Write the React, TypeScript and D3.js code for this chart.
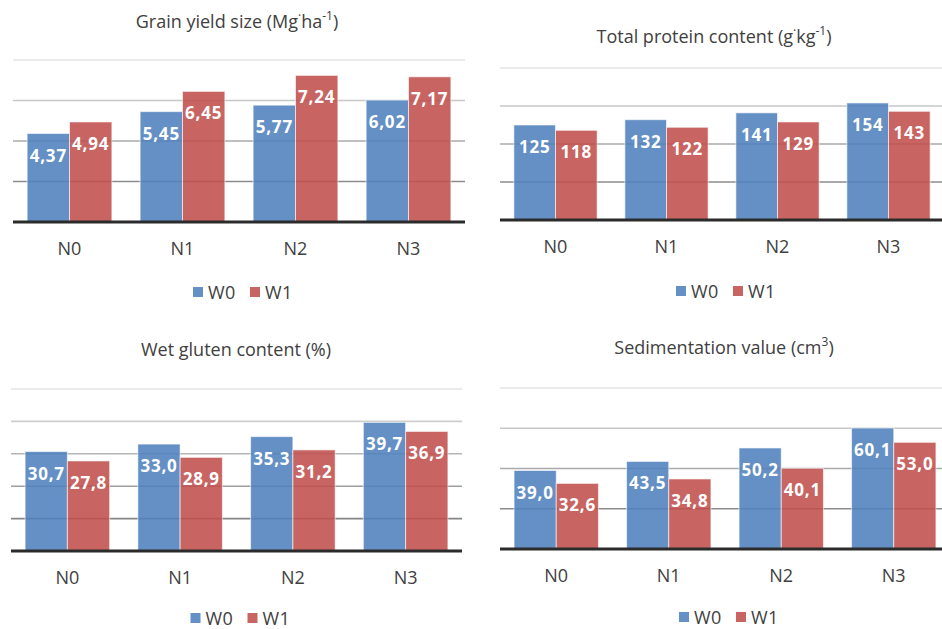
import React from 'react';
import * as d3 from 'd3';

// categories and series
const categories = ['N0', 'N1', 'N2', 'N3'];
const seriesNames = ['W0', 'W1'];

// values
const yieldW0 = [4.37, 5.45, 5.77, 6.02];
const yieldW1 = [4.94, 6.45, 7.24, 7.17];
const proteinW0 = [125, 132, 141, 154];
const proteinW1 = [118, 122, 129, 143];
const glutenW0 = [30.7, 33.0, 35.3, 39.7];
const glutenW1 = [27.8, 28.9, 31.2, 36.9];
const sedW0 = [39.0, 43.5, 50.2, 60.1];
const sedW1 = [32.6, 34.8, 40.1, 53.0];

// gridline ticks
const yieldTicks = [0, 2, 4, 6, 8];
const proteinTicks = [0, 50, 100, 150, 200];
const glutenTicks = [0, 10, 20, 30, 40, 50];
const sedTicks = [0, 20, 40, 60, 80];

const COLORS = ['#4F81BD', '#C0504D'];
const FONT = '"Open Sans", "Liberation Sans", sans-serif';

const locale = d3.formatLocale({
  decimal: ',',
  thousands: ' ',
  grouping: [3],
  currency: ['', ''],
});

interface PanelProps {
  title: React.ReactNode;
  titleX: number;
  titleY: number;
  w0: number[];
  w1: number[];
  ticks: number[];
  fmt: string;
  left: number;
  right: number;
  top: number;
  baseline: number;
  xLabelY: number;
  legendY: number;
}

const Panel: React.FC<PanelProps> = ({
  title, titleX, titleY, w0, w1, ticks, fmt, left, right, top, baseline, xLabelY, legendY,
}) => {
  const x0 = d3.scaleBand<string>()
    .domain(categories)
    .range([left, right])
    .paddingInner(0.25)
    .paddingOuter(0.125);
  const x1 = d3.scaleBand<string>()
    .domain(seriesNames)
    .range([0, x0.bandwidth()])
    .padding(0);
  const y = d3.scaleLinear()
    .domain([0, d3.max(ticks) as number])
    .range([baseline, top]);
  const format = locale.format(fmt);
  const gridColor = d3.interpolateRgb('#6f6f6f', '#e4e4e4');
  const values = [w0, w1];
  const mid = (left + right) / 2;
  const legendX = mid - 46;

  return (
    <g>
      <text x={titleX} y={titleY} textAnchor="middle" fontSize={18} fill="#404040">
        {title}
      </text>

      {ticks.slice(1).map((t, i) => (
        <line
          key={t}
          x1={left}
          x2={right}
          y1={y(t)}
          y2={y(t)}
          stroke={gridColor((i + 1) / (ticks.length - 1))}
          strokeWidth={1.6}
        />
      ))}

      {categories.map((c, ci) => (
        <g key={c} transform={`translate(${x0(c)},0)`}>
          {seriesNames.map((s, si) => {
            const v = values[si][ci];
            const bx = x1(s) || 0;
            return (
              <g key={s}>
                <rect
                  x={bx}
                  y={y(v)}
                  width={x1.bandwidth()}
                  height={baseline - y(v)}
                  fill={COLORS[si]}
                  fillOpacity={0.88}
                  stroke="#ffffff"
                  strokeOpacity={0.6}
                  strokeWidth={1}
                />
                <text
                  x={bx + x1.bandwidth() / 2}
                  y={y(v) + 28}
                  textAnchor="middle"
                  fontSize={17}
                  fontWeight="bold"
                  letterSpacing={0.8}
                  fill="#ffffff"
                >
                  {format(v)}
                </text>
              </g>
            );
          })}
        </g>
      ))}

      <line x1={left} x2={right} y1={baseline} y2={baseline} stroke="#2b2b2b" strokeWidth={3} />

      {categories.map((c) => (
        <text
          key={c}
          x={(x0(c) || 0) + x0.bandwidth() / 2}
          y={xLabelY + 6.5}
          textAnchor="middle"
          fontSize={18}
          fill="#404040"
        >
          {c}
        </text>
      ))}

      {seriesNames.map((s, si) => (
        <g key={s} transform={`translate(${legendX + si * 57},${legendY})`}>
          <rect x={0} y={-5} width={10} height={10} fill={COLORS[si]} fillOpacity={0.88} />
          <text x={15} y={6.5} fontSize={18} letterSpacing={0.4} fill="#404040">{s}</text>
        </g>
      ))}
    </g>
  );
};

const sup = (t: string) => (
  <tspan baselineShift="super" fontSize={12}>{t}</tspan>
);

export default function App() {
  return (
    <svg
      width={942}
      height={629}
      style={{ position: 'absolute', left: 0, top: 0, background: '#ffffff' }}
      fontFamily={FONT}
    >
      <Panel
        title={<>Grain yield size (Mg{sup('·')}ha{sup('-1')})</>}
        titleX={237}
        titleY={28}
        w0={yieldW0}
        w1={yieldW1}
        ticks={yieldTicks}
        fmt=".2f"
        left={13}
        right={465}
        top={60}
        baseline={222}
        xLabelY={248}
        legendY={292}
      />
      <Panel
        title={<>Total protein content (g{sup('·')}kg{sup('-1')})</>}
        titleX={714}
        titleY={43}
        w0={proteinW0}
        w1={proteinW1}
        ticks={proteinTicks}
        fmt=".0f"
        left={500}
        right={944}
        top={68}
        baseline={220}
        xLabelY={246}
        legendY={291}
      />
      <Panel
        title={<>Wet gluten content (%)</>}
        titleX={236}
        titleY={356}
        w0={glutenW0}
        w1={glutenW1}
        ticks={glutenTicks}
        fmt=".1f"
        left={11}
        right={462}
        top={389}
        baseline={551}
        xLabelY={577}
        legendY={618}
      />
      <Panel
        title={<>Sedimentation value (cm{sup('3')})</>}
        titleX={724}
        titleY={354}
        w0={sedW0}
        w1={sedW1}
        ticks={sedTicks}
        fmt=".1f"
        left={500}
        right={950}
        top={388}
        baseline={549}
        xLabelY={575}
        legendY={617}
      />
    </svg>
  );
}
